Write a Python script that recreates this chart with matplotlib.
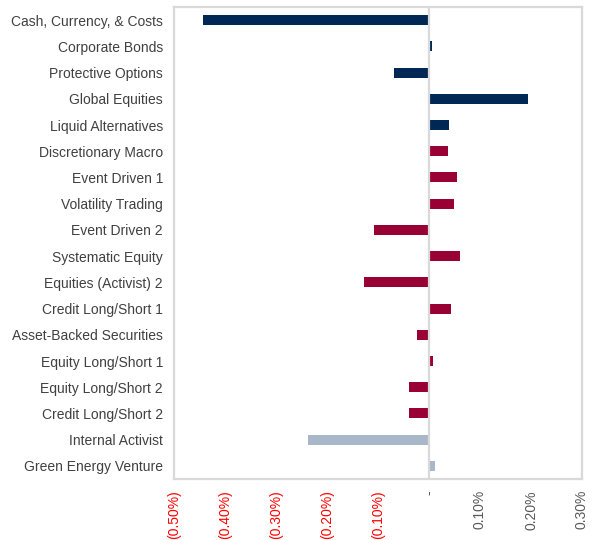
import matplotlib
matplotlib.use("Agg")
import matplotlib.pyplot as plt
from matplotlib.ticker import FixedLocator

categories = ["Cash, Currency, & Costs", "Corporate Bonds", "Protective Options",
              "Global Equities", "Liquid Alternatives", "Discretionary Macro",
              "Event Driven 1", "Volatility Trading", "Event Driven 2",
              "Systematic Equity", "Equities (Activist) 2", "Credit Long/Short 1",
              "Asset-Backed Securities", "Equity Long/Short 1", "Equity Long/Short 2",
              "Credit Long/Short 2", "Internal Activist", "Green Energy Venture"]
values = [-0.443, 0.006, -0.068, 0.195, 0.039, 0.038, 0.054, 0.049, -0.107,
          0.060, -0.128, 0.044, -0.024, 0.007, -0.039, -0.039, -0.238, 0.011]
groups = ["a"] * 5 + ["b"] * 11 + ["c"] * 2
group_colors = {"a": "#002855", "b": "#990033", "c": "#A9B7CB"}
xticks = [-0.5, -0.4, -0.3, -0.2, -0.1, 0.0, 0.1, 0.2, 0.3]

plt.rcParams['font.family'] = ['Liberation Sans Narrow', 'Liberation Sans', 'DejaVu Sans']

fig = plt.figure(figsize=(6.02, 5.40), dpi=100)
ax = fig.add_axes([174/602, 1 - 479/540, (582 - 174)/602, (479 - 7)/540])

ypos = list(range(len(categories)))
ax.barh(ypos, values, height=0.38, color=[group_colors[g] for g in groups], zorder=3)
ax.axvline(0, color="#d9d9d9", lw=1.6, zorder=4)

ax.set_ylim(len(categories) - 0.5, -0.5)
ax.set_xlim(-0.5, 0.3)
ax.set_yticks(ypos)
ax.set_yticklabels(categories, fontsize=10, color="#404040")
ax.xaxis.set_major_locator(FixedLocator(xticks))

def fmt(v):
    if abs(v) < 1e-9:
        return "-"
    if v < 0:
        return f"({abs(v):.2f}%)"
    return f"{v:.2f}%"

ax.set_xticklabels([fmt(v) for v in xticks], rotation=90, fontsize=10)
for lab, v in zip(ax.get_xticklabels(), xticks):
    lab.set_color("#FF0000" if v < 0 else "#595959")
    if abs(v) < 1e-9:
        lab.set_verticalalignment("top")

ax.tick_params(axis="both", length=0)
ax.tick_params(axis="y", pad=8)
ax.tick_params(axis="x", pad=8)
for s in ax.spines.values():
    s.set_color("#d9d9d9")
    s.set_linewidth(1.6)

fig.savefig("out.png", dpi=100)
